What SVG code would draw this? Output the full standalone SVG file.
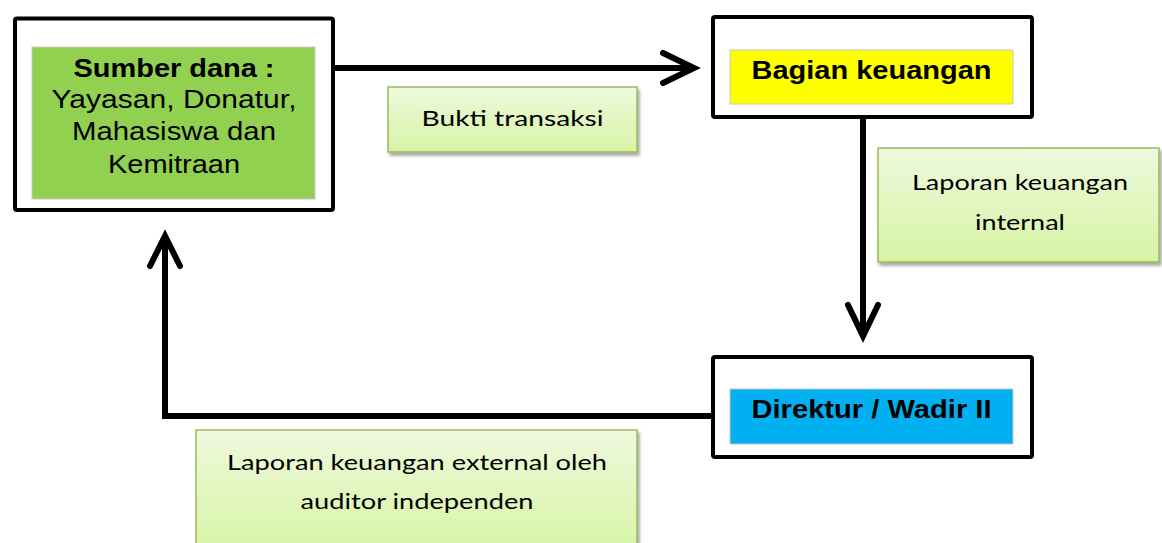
<svg xmlns="http://www.w3.org/2000/svg" width="1162" height="543" viewBox="0 0 1162 543">
<style>
.frame{fill:#fff;stroke:#000;stroke-width:4;}
.inner{stroke:#c8c8c8;stroke-width:1;}
.bold{font-family:"Liberation Sans",Arial,sans-serif;font-weight:bold;font-size:26px;fill:#000;}
.reg{font-family:"Liberation Sans",Arial,sans-serif;font-size:26px;fill:#000;}
.lbl{fill:url(#lg);stroke:#9bbb59;stroke-width:1.5;filter:url(#sh);}
.lt{font-family:Lato,"Open Sans",sans-serif;font-size:22px;fill:#000;}
.line{fill:none;stroke:#000;stroke-width:6;}
.head{fill:none;stroke:#000;stroke-width:6;stroke-linecap:round;stroke-linejoin:miter;}
</style>
<defs>
<linearGradient id="lg" x1="0" y1="0" x2="0" y2="1">
<stop offset="0" stop-color="#eef9dc"/>
<stop offset="1" stop-color="#d6f4a4"/>
</linearGradient>
<filter id="sh" x="-10%" y="-10%" width="130%" height="140%">
<feDropShadow dx="2" dy="3" stdDeviation="1.5" flood-color="#000" flood-opacity="0.35"/>
</filter>
</defs>
<rect width="1162" height="543" fill="#fff"/>
<g id="connectors">
<line class="line" x1="333" y1="68" x2="692" y2="68"/>
<polyline class="head" points="663,53 694,68 663,83"/>
<line class="line" x1="863" y1="118" x2="863" y2="334"/>
<polyline class="head" points="848,305 863,336 878,305"/>
<polyline class="line" points="713,416 165,416 165,238"/>
<polyline class="head" points="150,266 165,236 180,266"/>
</g>
<g id="label-bukti">
<rect class="lbl" x="388" y="87" width="249" height="65"/>
<text class="lt" x="512.5" y="126" text-anchor="middle" textLength="182" lengthAdjust="spacingAndGlyphs">Bukti transaksi</text>
</g>
<g id="label-internal">
<rect class="lbl" x="878" y="148" width="281" height="114"/>
<text class="lt" x="1020" y="190" text-anchor="middle" textLength="216" lengthAdjust="spacingAndGlyphs">Laporan keuangan</text>
<text class="lt" x="1020" y="230" text-anchor="middle" textLength="90" lengthAdjust="spacingAndGlyphs">internal</text>
</g>
<g id="label-external">
<rect class="lbl" x="196" y="430" width="441" height="125"/>
<text class="lt" x="417" y="470" text-anchor="middle" textLength="380" lengthAdjust="spacingAndGlyphs">Laporan keuangan external oleh</text>
<text class="lt" x="417" y="509" text-anchor="middle" textLength="233" lengthAdjust="spacingAndGlyphs">auditor independen</text>
</g>
<g id="node-sumber">
<rect class="frame" x="15" y="18.5" width="318" height="191.5" rx="2"/>
<rect class="inner" x="32" y="47" width="283" height="152" fill="#92d050"/>
<text class="bold" x="174" y="77" text-anchor="middle" textLength="201" lengthAdjust="spacingAndGlyphs">Sumber dana :</text>
<text class="reg" x="174" y="108" text-anchor="middle" textLength="245" lengthAdjust="spacingAndGlyphs">Yayasan, Donatur,</text>
<text class="reg" x="174" y="140" text-anchor="middle" textLength="204" lengthAdjust="spacingAndGlyphs">Mahasiswa dan</text>
<text class="reg" x="174" y="173" text-anchor="middle" textLength="132" lengthAdjust="spacingAndGlyphs">Kemitraan</text>
</g>
<g id="node-bagian">
<rect class="frame" x="713" y="17" width="319" height="100" rx="2"/>
<rect class="inner" x="730" y="50" width="283" height="54" fill="#ffff00"/>
<text class="bold" x="871.5" y="79" text-anchor="middle" textLength="240" lengthAdjust="spacingAndGlyphs">Bagian keuangan</text>
</g>
<g id="node-direktur">
<rect class="frame" x="713" y="357" width="319" height="100" rx="2"/>
<rect class="inner" x="730" y="389" width="283" height="55" fill="#00b0f0"/>
<text class="bold" x="871.5" y="418" text-anchor="middle" textLength="240" lengthAdjust="spacingAndGlyphs">Direktur / Wadir II</text>
</g>
</svg>
